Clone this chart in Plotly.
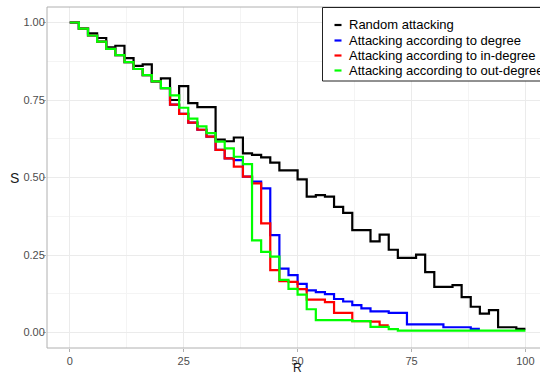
import plotly.graph_objects as go

# ---------------- data ----------------
series_names = [
    "Random attacking",
    "Attacking according to degree",
    "Attacking according to in-degree",
    "Attacking according to out-degree",
]
series_colors = ["#000000", "#0000FF", "#FF0000", "#00FF00"]

R_random = [0, 2, 4, 6, 8, 10, 12, 14, 16, 18, 20, 22, 24, 26, 28, 30, 32, 34, 36, 38, 40,
            42, 44, 46, 48, 50, 52, 54, 56, 58, 60, 62, 64, 66, 68, 70, 72, 74, 76, 78, 80,
            82, 84, 86, 88, 90, 92, 94, 96, 98, 100]
S_random = [1.00, 0.98, 0.965, 0.95, 0.92, 0.925, 0.885, 0.86, 0.865, 0.81, 0.82,
            0.75, 0.795, 0.74, 0.727, 0.727, 0.622, 0.617, 0.629, 0.578, 0.573,
            0.565, 0.548, 0.523, 0.523, 0.494, 0.438, 0.443, 0.438, 0.405, 0.386,
            0.330, 0.330, 0.294, 0.316, 0.267, 0.241, 0.241, 0.251, 0.195, 0.147,
            0.147, 0.153, 0.114, 0.083, 0.061, 0.072, 0.017, 0.017, 0.012, 0.012]

R_degree = [0, 2, 4, 6, 8, 10, 12, 14, 16, 18, 20, 22, 24, 26, 28, 30, 32, 34, 36, 38, 40,
            42, 44, 46, 48, 50, 52, 54, 56, 58, 60, 62, 64, 66, 68, 70, 72, 74, 76, 78, 80,
            82, 84, 86, 88, 90]
S_degree = [1.00, 0.98, 0.958, 0.938, 0.915, 0.895, 0.872, 0.85, 0.83, 0.81, 0.788,
            0.735, 0.705, 0.677, 0.654, 0.632, 0.589, 0.562, 0.556, 0.503, 0.487,
            0.465, 0.314, 0.206, 0.185, 0.157, 0.136, 0.130, 0.124, 0.108, 0.100,
            0.088, 0.078, 0.068, 0.068, 0.063, 0.063, 0.026, 0.026, 0.026, 0.026,
            0.017, 0.017, 0.017, 0.012, 0.012]

R_indegree = [0, 2, 4, 6, 8, 10, 12, 14, 16, 18, 20, 22, 24, 26, 28, 30, 32, 34, 36, 38, 40,
              42, 44, 46, 48, 50, 52, 54, 56, 58, 60, 62, 64, 66, 68, 70]
S_indegree = [1.00, 0.98, 0.958, 0.938, 0.915, 0.895, 0.872, 0.85, 0.83, 0.81, 0.788,
              0.735, 0.705, 0.677, 0.654, 0.632, 0.589, 0.562, 0.535, 0.503, 0.481,
              0.352, 0.201, 0.166, 0.163, 0.140, 0.106, 0.106, 0.098, 0.063, 0.063,
              0.037, 0.037, 0.035, 0.023, 0.023]

R_outdegree = [0, 2, 4, 6, 8, 10, 12, 14, 16, 18, 20, 22, 24, 26, 28, 30, 32, 34, 36, 38, 40,
               42, 44, 46, 48, 50, 52, 54, 56, 58, 60, 62, 64, 66, 68, 70, 72, 74, 76, 78, 80,
               82, 84, 86, 88, 90, 92, 94, 96, 98, 100]
S_outdegree = [1.00, 0.98, 0.958, 0.938, 0.915, 0.895, 0.872, 0.85, 0.83, 0.81, 0.788,
               0.765, 0.725, 0.690, 0.665, 0.643, 0.616, 0.594, 0.567, 0.543, 0.297,
               0.260, 0.245, 0.170, 0.141, 0.122, 0.075, 0.040, 0.040, 0.040, 0.040,
               0.037, 0.037, 0.018, 0.018, 0.011, 0.006, 0.006, 0.006, 0.006, 0.006,
               0.006, 0.006, 0.006, 0.006, 0.006, 0.006, 0.006, 0.006, 0.006, 0.006]

x_tick_vals = [0, 25, 50, 75, 100]
x_tick_text = ["0", "25", "50", "75", "100"]
y_tick_vals = [0, 0.25, 0.5, 0.75, 1.0]
y_tick_text = ["0.00", "0.25", "0.50", "0.75", "1.00"]
x_minor = [12.5, 37.5, 62.5, 87.5]
y_minor = [0.125, 0.375, 0.625, 0.875]
x_title = "R"
y_title = "S"

# ---------------- layout geometry ----------------
W, H = 540, 375
ML, MR, MT, MB = 47, 0, 7, 27
PW, PH = W - ML - MR, H - MT - MB
FONT = "Liberation Sans, Arial, sans-serif"
BORDER = "#B0B0B0"


def fx(px):
    return (px - ML) / PW


def fy(py):
    return (H - MB - py) / PH


fig = go.Figure()
all_R = [R_random, R_degree, R_indegree, R_outdegree]
all_S = [S_random, S_degree, S_indegree, S_outdegree]
for name, col, xs, ys in zip(series_names, series_colors, all_R, all_S):
    fig.add_trace(go.Scatter(x=xs, y=ys, mode="lines", name=name, showlegend=False,
                             line=dict(color=col, width=2.2, shape="hv")))

axis_common = dict(
    ticks="outside", ticklen=3, tickcolor=BORDER, tickwidth=1,
    tickfont=dict(family=FONT, size=11, color="#4D4D4D"),
    showgrid=True, gridcolor="#EBEBEB", gridwidth=1,
    zeroline=False, showline=False, fixedrange=True,
)
fig.update_xaxes(range=[-5, 103.2], tickvals=x_tick_vals, ticktext=x_tick_text,
                 minor=dict(tickvals=x_minor, showgrid=True, gridcolor="#F4F4F4",
                            gridwidth=0.6, ticks=""),
                 **axis_common)
fig.update_yaxes(range=[-0.05, 1.05], tickvals=y_tick_vals, ticktext=y_tick_text,
                 ticklabelstandoff=-4,
                 minor=dict(tickvals=y_minor, showgrid=True, gridcolor="#F4F4F4",
                            gridwidth=0.6, ticks=""),
                 **axis_common)

shapes = [
    # panel border (right side falls outside the picture, as in the reference)
    dict(type="rect", xref="paper", yref="paper", x0=0, x1=fx(549), y0=0, y1=1,
         line=dict(color=BORDER, width=1), fillcolor="rgba(0,0,0,0)", layer="above"),
    # legend box
    dict(type="rect", xref="paper", yref="paper", x0=fx(322.5), x1=fx(600), y0=fy(81), y1=fy(7.5),
         line=dict(color="#222222", width=1), fillcolor="white", layer="above"),
]
annotations = []
legend_y = [25, 40.5, 55.5, 70.5]
for name, col, ly in zip(series_names, series_colors, legend_y):
    shapes.append(dict(type="line", xref="paper", yref="paper", x0=fx(334.5), x1=fx(341.5),
                       y0=fy(ly), y1=fy(ly), line=dict(color=col, width=2.2), layer="above"))
    annotations.append(dict(text=name, xref="paper", yref="paper", x=fx(347), y=fy(ly),
                            xanchor="left", yanchor="middle", showarrow=False,
                            font=dict(family=FONT, size=13, color="#000000")))

annotations.append(dict(text=y_title, xref="paper", yref="y", x=fx(14), y=0.5,
                        xanchor="center", yanchor="middle", showarrow=False,
                        font=dict(family=FONT, size=14, color="#1A1A1A")))
annotations.append(dict(text=x_title, xref="x", yref="paper", x=50, y=fy(368),
                        xanchor="center", yanchor="middle", showarrow=False,
                        font=dict(family=FONT, size=12, color="#1A1A1A")))

fig.update_layout(
    width=W, height=H, autosize=False,
    margin=dict(l=ML, r=MR, t=MT, b=MB, pad=0, autoexpand=False),
    paper_bgcolor="white", plot_bgcolor="white",
    shapes=shapes, annotations=annotations, showlegend=False,
    font=dict(family=FONT),
)

fig.write_html("out.html", config={"displayModeBar": False},
               post_script="document.body.style.margin='0px';document.body.style.overflow='hidden';")
